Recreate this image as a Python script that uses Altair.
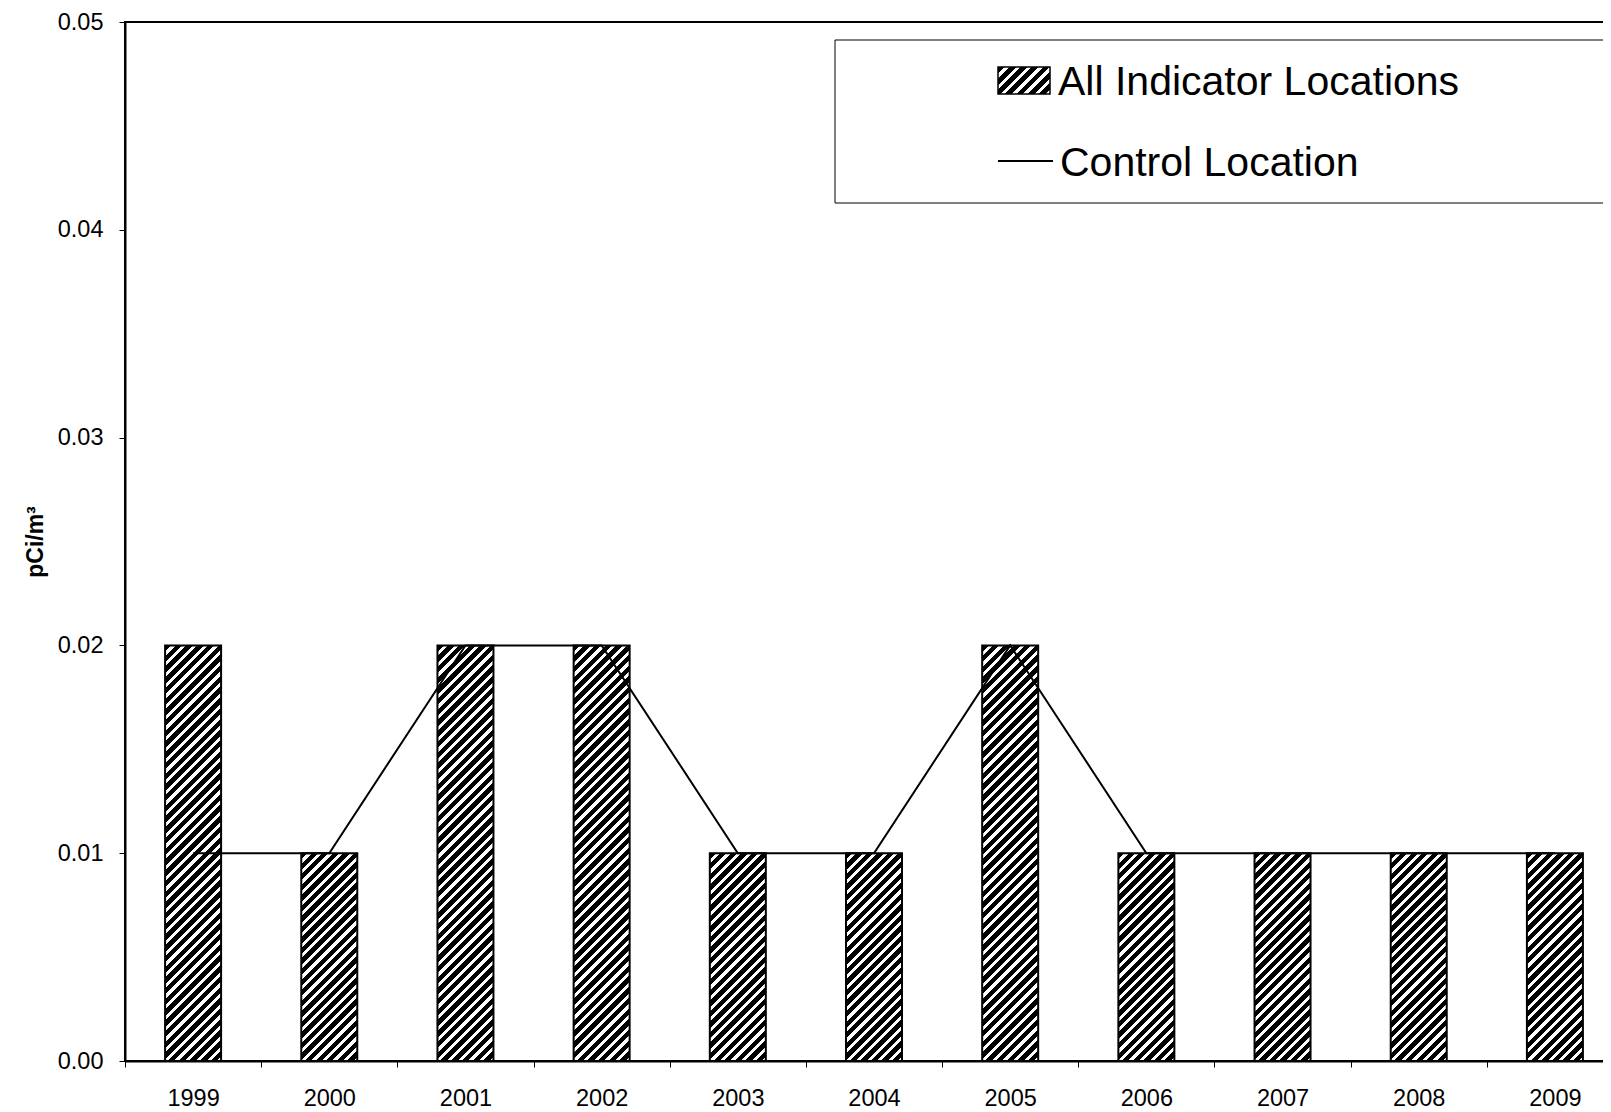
import math
import altair as alt
import pandas as pd

# ---- data ----
years = ["1999", "2000", "2001", "2002", "2003", "2004", "2005", "2006", "2007", "2008", "2009"]
indicator = [0.02, 0.01, 0.02, 0.02, 0.01, 0.01, 0.02, 0.01, 0.01, 0.01, 0.01]
control = [0.01, 0.01, 0.02, 0.02, 0.01, 0.01, 0.02, 0.01, 0.01, 0.01, 0.01]
y_ticks = [0.0, 0.01, 0.02, 0.03, 0.04, 0.05]
legend_labels = ["All Indicator Locations", "Control Location"]
chart_title = "1999 to 2009"
y_title = "pCi/m\u00b3"

df = pd.DataFrame({"year": years, "ind": indicator, "ctrl": control})

FONT = "Liberation Sans"
PLOT_W = 1498   # 11 bands of ~136 px (the reference is cut at the right edge)
PLOT_H = 1039
BAR_W = 56


def hatch(w, h, period=7.6, frac=0.6):
    """Diagonal (///) black/white stripes as a bbox-relative linear gradient."""
    c = (w + h) / (w * w + h * h)
    n = max(1, round((w + h) / (math.sqrt(2) * period)))
    stops = []
    for i in range(n):
        a, b, e = i / n, (i + frac) / n, (i + 1) / n
        stops += [
            {"offset": a, "color": "black"},
            {"offset": b, "color": "black"},
            {"offset": b, "color": "white"},
            {"offset": e, "color": "white"},
        ]
    return {"gradient": "linear", "x1": 0, "y1": 0, "x2": w * c, "y2": h * c, "stops": stops}


unit = PLOT_H / 0.05
g_low = hatch(BAR_W, 0.01 * unit)
g_high = hatch(BAR_W, 0.02 * unit)
g_swatch = hatch(52, 27)

x_enc = alt.X(
    "year:N",
    sort=years,
    title=None,
    scale=alt.Scale(paddingInner=0, paddingOuter=0),
    axis=alt.Axis(
        labelAngle=0,
        tickBand="extent",
        tickSize=6,
        labelPadding=31,
        labelBaseline="middle",
        labelFontSize=23.5,
        domainWidth=2,
    ),
)
y_scale = alt.Scale(domain=[0, 0.05], nice=False)

bars = alt.Chart(df).mark_bar(width=BAR_W, stroke="black", strokeWidth=2).encode(
    x=x_enc,
    y=alt.Y(
        "ind:Q",
        scale=y_scale,
        title=y_title,
        axis=alt.Axis(
            values=y_ticks,
            format=".2f",
            grid=False,
            tickSize=6,
            labelPadding=16,
            labelFontSize=23.5,
            titleFontSize=23,
            titleFontWeight="bold",
            titlePadding=10,
            domainWidth=2,
        ),
    ),
    fill=alt.condition("datum.ind > 0.015", alt.value(g_high), alt.value(g_low)),
)

line = alt.Chart(df).mark_line(color="black", strokeWidth=2).encode(
    x=alt.X("year:N", sort=years),
    y=alt.Y("ctrl:Q", scale=y_scale),
)

one = alt.Data(values=[{}])

legend_box = alt.Chart(one).mark_rect(fill="white", stroke="black", strokeWidth=1).encode(
    x=alt.value(710), x2=alt.value(1500), y=alt.value(18), y2=alt.value(181)
)
legend_swatch = alt.Chart(one).mark_rect(fill=g_swatch, stroke="black", strokeWidth=1.5).encode(
    x=alt.value(873), x2=alt.value(925), y=alt.value(45), y2=alt.value(72)
)
legend_line = alt.Chart(one).mark_rule(color="black", strokeWidth=2).encode(
    x=alt.value(873), x2=alt.value(928), y=alt.value(139)
)
legend_t1 = alt.Chart(one).mark_text(
    text=legend_labels[0], align="left", baseline="alphabetic", fontSize=41, font=FONT, color="black"
).encode(x=alt.value(933), y=alt.value(73))
legend_t2 = alt.Chart(one).mark_text(
    text=legend_labels[1], align="left", baseline="alphabetic", fontSize=41, font=FONT, color="black"
).encode(x=alt.value(935), y=alt.value(154))

title_mark = alt.Chart(one).mark_text(
    text=chart_title, align="center", baseline="alphabetic", fontSize=22, fontWeight="bold", font=FONT, color="black"
).encode(x=alt.value(705), y=alt.value(-18))

chart = (
    alt.layer(bars, line, legend_box, legend_swatch, legend_line, legend_t1, legend_t2, title_mark)
    .properties(
        width=PLOT_W,
        height=PLOT_H,
        padding={"left": 117, "top": 14, "right": -20, "bottom": 56},
        autosize=alt.AutoSizeParams(type="none"),
        background="white",
    )
    .configure_axis(
        labelFont=FONT,
        titleFont=FONT,
        labelColor="black",
        titleColor="black",
        domainColor="black",
        tickColor="black",
    )
    .configure_view(stroke="black", strokeWidth=2)
)

chart.save("out.html", embed_options={"renderer": "svg", "actions": False})
